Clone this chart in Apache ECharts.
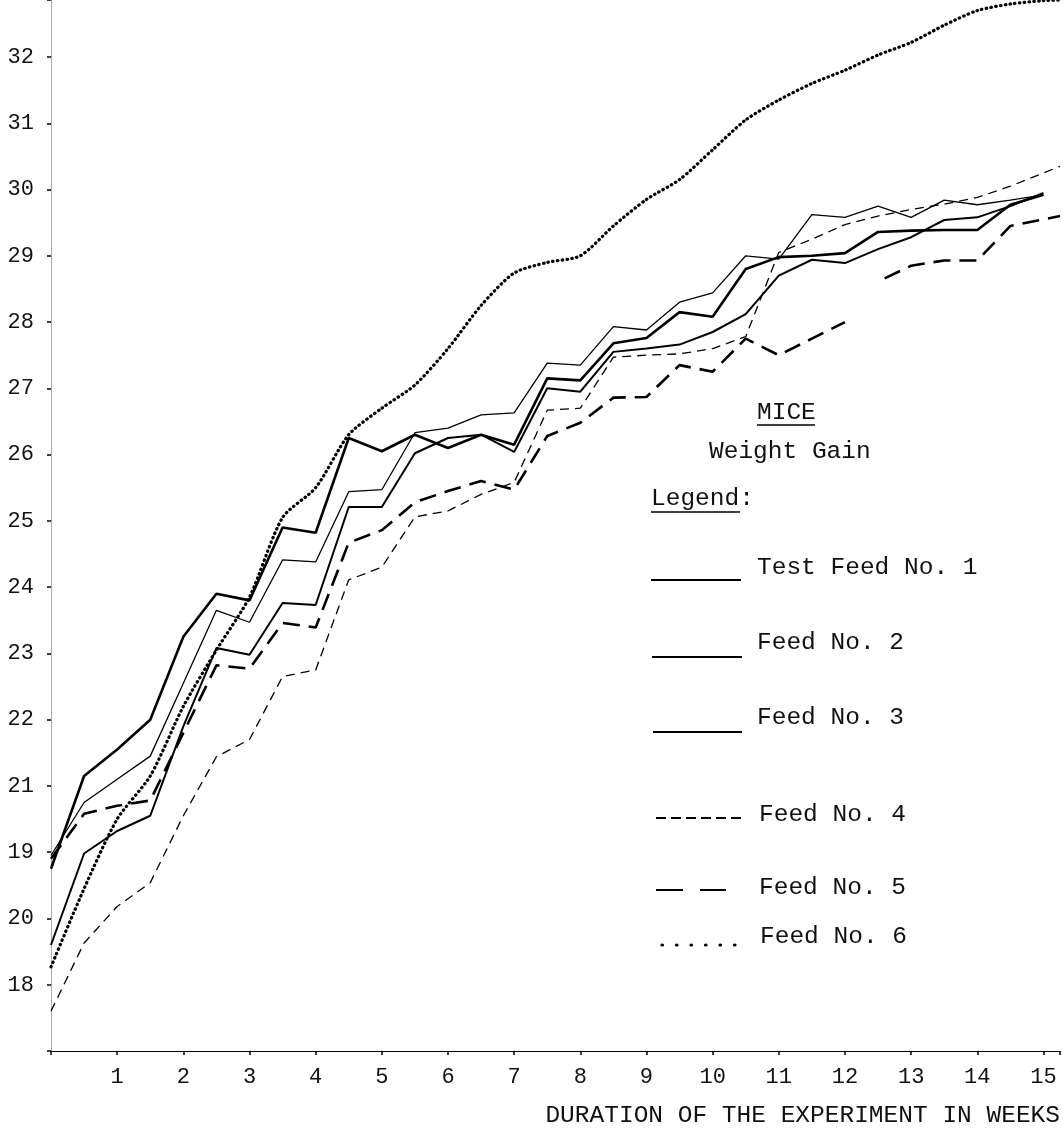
<!DOCTYPE html>
<html lang="en">
<head>
<meta charset="UTF-8">
<title>Mice weight gain</title>
</head>
<body style="margin:0;background:#fff">
<div id="main" style="width:1063px;height:1131px"></div>
<script src="https://cdn.jsdelivr.net/npm/echarts@6/dist/echarts.min.js"></script>
<script>
// half-week grid used by most feeds
var weeks = [0, 0.5, 1, 1.5, 2, 2.5, 3, 3.5, 4, 4.5, 5, 5.5, 6, 6.5, 7, 7.5, 8, 8.5, 9, 9.5, 10,
    10.5, 11, 11.5, 12, 12.5, 13, 13.5, 14, 14.5, 15, 15.25];

var feed1 = [19.75, 21.15, 21.55, 22.0, 23.25, 23.9, 23.8, 24.9, 24.82, 26.25, 26.05, 26.3, 26.1, 26.3, 26.15,
    27.15, 27.12, 27.68, 27.76, 28.15, 28.08, 28.8, 28.98, 29.0, 29.04, 29.36, 29.38, 29.39, 29.39, 29.77, 29.92, null];
var feed2 = [19.95, 20.75, 21.1, 21.45, 22.55, 23.65, 23.47, 24.41, 24.38, 25.44, 25.47, 26.33, 26.4, 26.6, 26.63,
    27.38, 27.35, 27.93, 27.88, 28.3, 28.44, 29.0, 28.95, 29.62, 29.58, 29.75, 29.58, 29.84, 29.77, 29.84, 29.92, null];
var feed3 = [18.6, 19.98, 20.32, 20.55, 21.9, 23.08, 22.98, 23.76, 23.73, 25.21, 25.21, 26.02, 26.25, 26.3, 26.04,
    27.0, 26.95, 27.55, 27.6, 27.66, 27.85, 28.12, 28.7, 28.94, 28.89, 29.1, 29.28, 29.54, 29.58, 29.75, 29.95, null];
var feed4 = [17.6, 18.63, 19.18, 19.54, 20.55, 21.44, 21.7, 22.65, 22.75, 24.11, 24.3, 25.06, 25.15, 25.4, 25.58,
    26.67, 26.7, 27.47, 27.5, 27.52, 27.6, 27.78, 29.05, 29.25, 29.47, 29.6, 29.7, 29.78, 29.88, 30.05, 30.25, 30.35];
var feed6 = [18.27, 19.45, 20.5, 21.15, 22.2, 23.05, 23.85, 25.05, 25.5, 26.3, 26.7, 27.05, 27.6, 28.25, 28.74,
    28.9, 29.0, 29.45, 29.85, 30.15, 30.6, 31.05, 31.35, 31.6, 31.8, 32.03, 32.22, 32.48, 32.7, 32.8, 32.85, 32.86];

// feed 5 has a break after week 12
var weeks5 = [0, 0.5, 1, 1.5, 2, 2.5, 3, 3.5, 4, 4.5, 5, 5.5, 6, 6.5, 7, 7.5, 8, 8.5, 9, 9.5, 10,
    10.5, 11, 11.5, 12, 12.3, 12.6, 13, 13.5, 14, 14.5, 15, 15.25];
var feed5 = [19.9, 20.58, 20.7, 20.78, 21.8, 22.82, 22.77, 23.46, 23.39, 24.67, 24.86, 25.28, 25.45, 25.6, 25.47,
    26.28, 26.48, 26.86, 26.87, 27.35, 27.25, 27.75, 27.5, 27.75, 28.0, null, 28.66, 28.85, 28.93, 28.93, 29.45, 29.55, 29.6];

var legendNames = ['Test Feed No. 1', 'Feed No. 2', 'Feed No. 3', 'Feed No. 4', 'Feed No. 5', 'Feed No. 6'];

var FONT = "'Liberation Mono', 'DejaVu Sans Mono', monospace";

function pairs(xs, ys) {
    return xs.map(function (x, i) { return [x, ys[i]]; });
}

function line(name, xs, ys, style) {
    return {
        name: name,
        type: 'line',
        data: pairs(xs, ys),
        showSymbol: false,
        symbol: 'none',
        connectNulls: false,
        smooth: style.smooth || false,
        lineStyle: {
            color: '#000',
            width: style.width,
            type: style.type || 'solid',
            cap: style.cap || 'butt'
        },
        z: style.z || 2,
        silent: true
    };
}

function label(txt, x, y, align) {
    return {
        type: 'text',
        style: {
            x: x, y: y, text: txt, font: '24.5px ' + FONT, fill: '#111',
            textAlign: align || 'left', textVerticalAlign: 'middle',
            align: align || 'left', verticalAlign: 'middle'
        }
    };
}

function seg(x1, y1, x2, y2, w, dash) {
    return {
        type: 'line',
        shape: { x1: x1, y1: y1, x2: x2, y2: y2 },
        style: { stroke: '#000', lineWidth: w, lineDash: dash || null, lineCap: dash && dash[0] < 2 ? 'round' : 'butt' }
    };
}

var chart = echarts.init(document.getElementById('main'));

var option = {
    animation: false,
    backgroundColor: '#fff',
    grid: { left: 51, right: 0, top: 0, bottom: 80 },
    xAxis: {
        type: 'value',
        min: 0,
        max: 15.25,
        interval: 1,
        splitLine: { show: false },
        axisLine: { lineStyle: { color: '#000', width: 1.2 } },
        axisTick: { length: 4, lineStyle: { color: '#000', width: 1.5 } },
        axisLabel: {
            margin: 15,
            color: '#111',
            fontFamily: FONT,
            fontSize: 22,
            formatter: function (v) {
                return (v === 0 || v % 1 !== 0) ? '' : String(v);
            }
        }
    },
    yAxis: {
        type: 'value',
        min: 17,
        max: 32.86,
        interval: 1,
        splitLine: { show: false },
        axisLine: { lineStyle: { color: '#999', width: 1, type: 'dotted' } },
        axisTick: { length: 4, lineStyle: { color: '#000', width: 1.5 } },
        axisLabel: {
            margin: 17,
            color: '#111',
            fontFamily: FONT,
            fontSize: 22,
            // the original axis prints 19 and 20 in swapped places
            formatter: function (v) {
                if (v === 17 || v % 1 !== 0) return '';
                if (v === 19) return '20';
                if (v === 20) return '19';
                return String(v);
            }
        }
    },
    series: [
        line(legendNames[0], weeks, feed1, { width: 2.6, z: 4 }),
        line(legendNames[1], weeks, feed2, { width: 1.3, z: 3 }),
        line(legendNames[2], weeks, feed3, { width: 2.0, z: 3 }),
        line(legendNames[3], weeks, feed4, { width: 1.3, type: [9, 6] }),
        line(legendNames[4], weeks5, feed5, { width: 2.6, type: [17, 9] }),
        line(legendNames[5], weeks, feed6, { width: 3.2, type: [0.5, 4.3], cap: 'round', smooth: 0.25 })
    ],
    graphic: [
        label('MICE', 757, 413),
        seg(757, 425, 815, 425, 1.5),
        label('Weight Gain', 709, 452),
        label('Legend:', 651, 499),
        seg(651, 512, 740, 512, 1.5),

        seg(651, 580, 741, 580, 1.8),
        label(legendNames[0], 757, 568),
        seg(652, 657, 742, 657, 1.8),
        label(legendNames[1], 757, 643),
        seg(653, 732, 742, 732, 1.8),
        label(legendNames[2], 757, 718),
        seg(656, 818, 741, 818, 1.8, [10, 5]),
        label(legendNames[3], 759, 815),
        seg(656, 890, 726, 890, 2, [27, 17]),
        label(legendNames[4], 759, 888),
        seg(662, 945, 740, 945, 3.2, [0.5, 14]),
        label(legendNames[5], 760, 937),

        label('DURATION OF THE EXPERIMENT IN WEEKS', 1060, 1116, 'right')
    ]
};

chart.setOption(option);
</script>
</body>
</html>
